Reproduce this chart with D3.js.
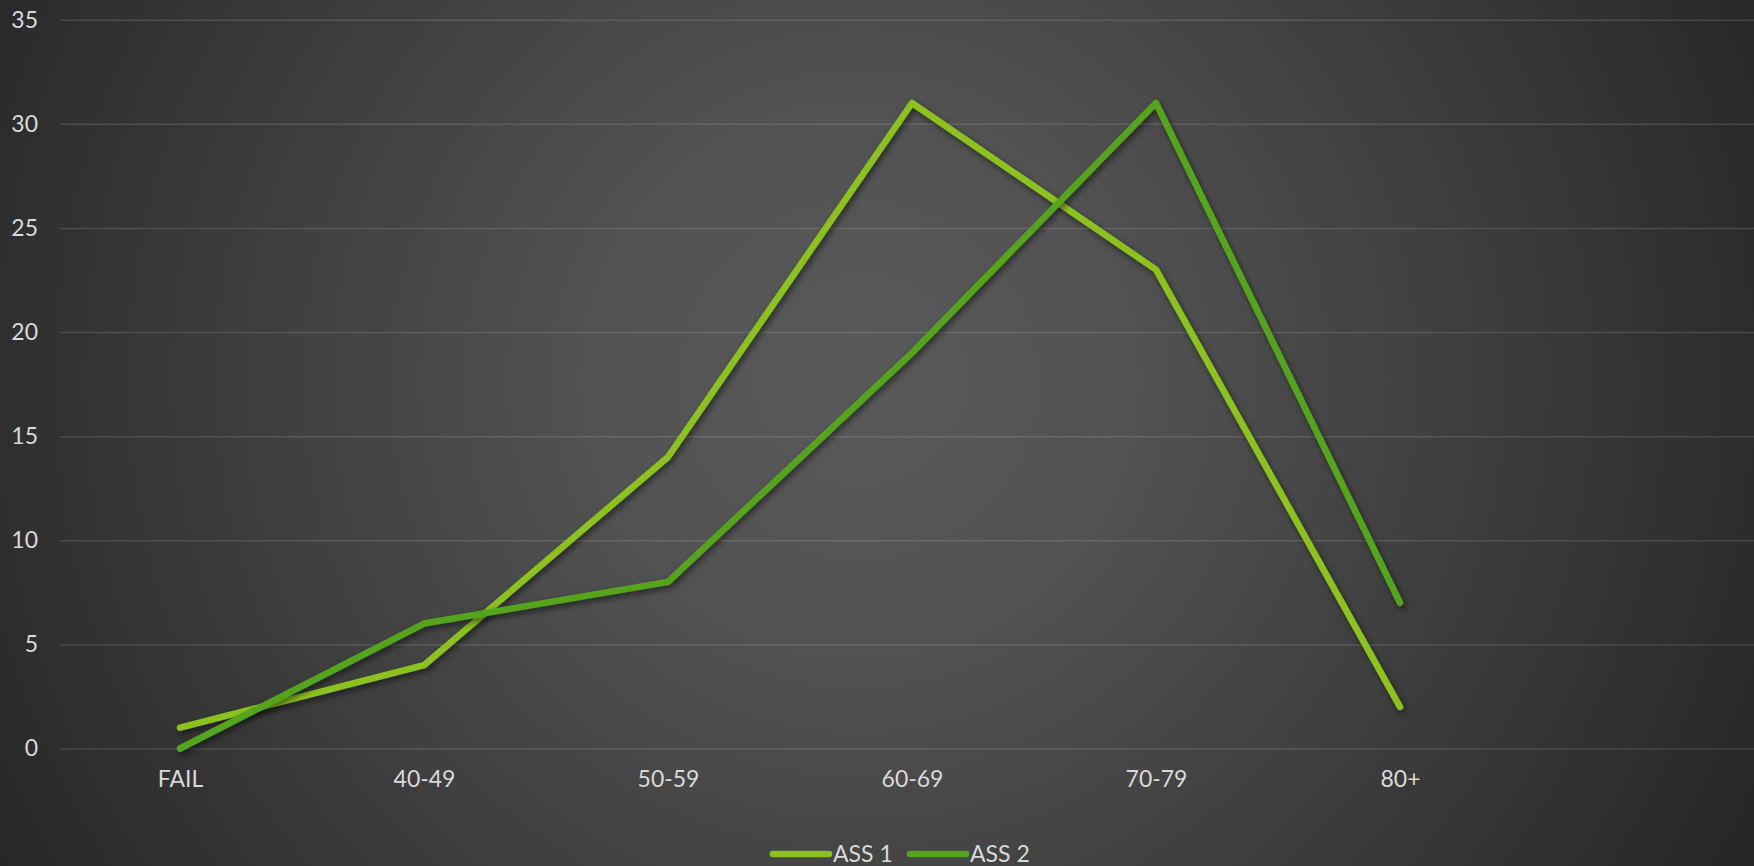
<!DOCTYPE html>
<html>
<head>
<meta charset="utf-8">
<script src="https://cdn.jsdelivr.net/npm/d3@7/dist/d3.min.js"></script>
<style>
  html, body { margin: 0; padding: 0; background: #2b2b2b; }
  svg { display: block; }
  text { font-family: Lato, "Open Sans", sans-serif; fill: #d9d9d9; }
</style>
</head>
<body>
<svg id="chart" width="1754" height="866"></svg>
<script>
// Score bands and number of students per band for each assessment
const categories = ["FAIL", "40-49", "50-59", "60-69", "70-79", "80+"];
const ass1 = [1, 4, 14, 31, 23, 2];
const ass2 = [0, 6, 8, 19, 31, 7];
const seriesNames = ["ASS 1", "ASS 2"];
const seriesColors = ["#8cc21f", "#55a51c"];
const yTicks = [0, 5, 10, 15, 20, 25, 30, 35];

const W = 1754, H = 866;
const svg = d3.select("#chart");

// Background: dark radial gradient, lighter in the middle
const defs = svg.append("defs");
const grad = defs.append("radialGradient")
  .attr("id", "bg").attr("gradientUnits", "userSpaceOnUse")
  .attr("cx", 860).attr("cy", 380).attr("r", 1000);
grad.append("stop").attr("offset", "0%").attr("stop-color", "#595959");
grad.append("stop").attr("offset", "25%").attr("stop-color", "#535353");
grad.append("stop").attr("offset", "100%").attr("stop-color", "#262626");
svg.append("rect").attr("width", W).attr("height", H).attr("fill", "url(#bg)");

// Soft drop shadow under the lines
const shadow = defs.append("filter").attr("id", "shadow")
  .attr("x", "-10%").attr("y", "-10%").attr("width", "120%").attr("height", "120%");
shadow.append("feDropShadow")
  .attr("dx", 2).attr("dy", 3).attr("stdDeviation", 3)
  .attr("flood-color", "#000").attr("flood-opacity", 0.55);

const x = d3.scalePoint().domain(categories).range([180, 1400]);
const y = d3.scaleLinear().domain([0, 35]).range([748.5, 19.7]);

// Horizontal gridlines with value labels
const yAxis = d3.axisLeft(y).tickValues(yTicks).tickSize(-(W - 60)).tickPadding(22);
const gy = svg.append("g").attr("transform", "translate(60,0)").call(yAxis);
gy.select(".domain").remove();
gy.selectAll(".tick line").attr("stroke", "#ffffff").attr("stroke-opacity", 0.13).attr("stroke-width", 1.5);
gy.selectAll(".tick text").attr("font-size", 23).attr("fill", "#d9d9d9");

// Category labels
const xAxis = d3.axisBottom(x).tickSize(0).tickPadding(22);
const gx = svg.append("g").attr("transform", `translate(0,${y(0)})`).call(xAxis);
gx.select(".domain").remove();
gx.selectAll(".tick text").attr("font-size", 23).attr("fill", "#d9d9d9");

// Series lines
const line = d3.line().x((d, i) => x(categories[i])).y(d => y(d));
[ass1, ass2].forEach((vals, k) => {
  svg.append("path")
    .datum(vals)
    .attr("d", line)
    .attr("fill", "none")
    .attr("stroke", seriesColors[k])
    .attr("stroke-width", 6.5)
    .attr("stroke-linecap", "round")
    .attr("stroke-linejoin", "round")
    .attr("filter", "url(#shadow)");
});

// Legend
const legend = svg.append("g").attr("transform", "translate(773,854)");
const itemX = [0, 137];
seriesNames.forEach((name, k) => {
  const g = legend.append("g").attr("transform", `translate(${itemX[k]},0)`);
  g.append("line").attr("x1", 0).attr("x2", 56).attr("y1", 0).attr("y2", 0)
    .attr("stroke", seriesColors[k]).attr("stroke-width", 6.5).attr("stroke-linecap", "round");
  g.append("text").attr("x", 60).attr("y", 8).attr("font-size", 23).text(name);
});
</script>
</body>
</html>
